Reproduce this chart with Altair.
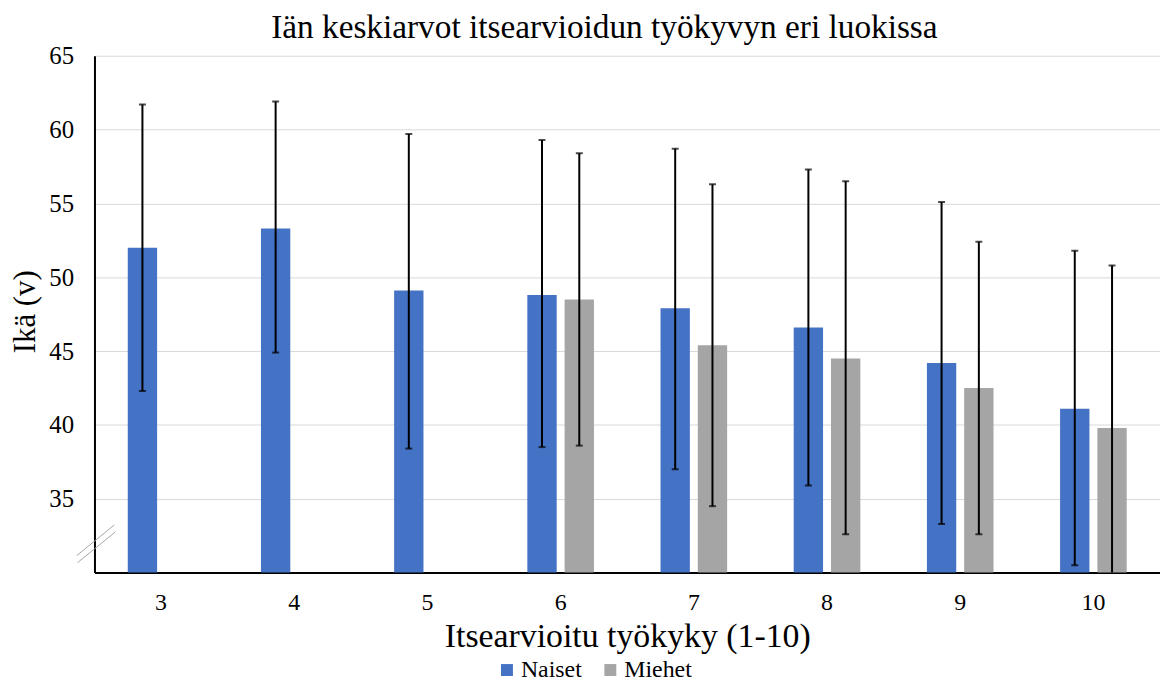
import altair as alt
import pandas as pd

categories = ["3", "4", "5", "6", "7", "8", "9", "10"]
series = ["Naiset", "Miehet"]

naiset_mean = [52.0, 53.3, 49.1, 48.8, 47.9, 46.6, 44.2, 41.1]
naiset_low = [42.3, 44.9, 38.4, 38.5, 37.0, 35.9, 33.3, 30.5]
naiset_high = [61.7, 61.9, 59.7, 59.3, 58.7, 57.3, 55.1, 51.8]

miehet_cats = ["6", "7", "8", "9", "10"]
miehet_mean = [48.5, 45.4, 44.5, 42.5, 39.8]
miehet_low = [38.6, 34.5, 32.6, 32.6, 28.9]
miehet_high = [58.4, 56.3, 56.5, 52.4, 50.8]

y_ticks = [35, 40, 45, 50, 55, 60, 65]

rows = []
for c, m, lo, hi in zip(categories, naiset_mean, naiset_low, naiset_high):
    rows.append({"luokka": c, "sukupuoli": "Naiset", "ika": m, "ala": lo, "yla": hi})
for c, m, lo, hi in zip(miehet_cats, miehet_mean, miehet_low, miehet_high):
    rows.append({"luokka": c, "sukupuoli": "Miehet", "ika": m, "ala": lo, "yla": hi})
df = pd.DataFrame(rows)

FONT = "Liberation Serif"

x_enc = alt.X(
    "luokka:N",
    sort=categories,
    scale=alt.Scale(domain=categories, paddingInner=0, paddingOuter=0),
    axis=alt.Axis(
        title="Itsearvioitu työkyky (1-10)",
        labelAngle=0,
        labelFont=FONT,
        labelFontSize=24,
        labelColor="black",
        titleFont=FONT,
        titleFontSize=34,
        titleFontWeight="normal",
        titleColor="black",
        ticks=False,
        tickSize=0,
        labelPadding=18,
        titlePadding=5,
        domainColor="black",
        domainWidth=2,
        grid=False,
    ),
)
xoff = alt.XOffset(
    "sukupuoli:N",
    sort=series,
    scale=alt.Scale(domain=series, paddingInner=0.213, paddingOuter=0.893),
)
y_scale = alt.Scale(domain=[30, 65], zero=False, nice=False)
y_axis = alt.Axis(
    title="Ikä (v)",
    values=y_ticks,
    labelFont=FONT,
    labelFontSize=25,
    labelColor="black",
    titleFont=FONT,
    titleFontSize=31,
    titleFontWeight="normal",
    titleColor="black",
    titleX=-69,
    titleY=257,
    titleAngle=270,
    titleAlign="center",
    titleBaseline="middle",
    grid=True,
    gridColor="#D9D9D9",
    gridWidth=1,
    ticks=False,
    tickSize=0,
    domainColor="black",
    domainWidth=2,
    labelPadding=21,
)

base = alt.Chart(df)

bars = base.mark_bar(clip=True).encode(
    x=x_enc,
    xOffset=xoff,
    y=alt.Y("ika:Q", scale=y_scale, axis=y_axis),
    color=alt.Color(
        "sukupuoli:N",
        sort=series,
        scale=alt.Scale(domain=series, range=["#4472C4", "#A5A5A5"]),
        legend=alt.Legend(
            title=None,
            orient="none",
            legendX=403,
            legendY=606,
            direction="horizontal",
            symbolType="square",
            symbolSize=144,
            symbolStrokeWidth=0,
            labelFont=FONT,
            labelFontSize=24,
            labelColor="black",
            labelOffset=2,
            columnPadding=16,
        ),
    ),
)

rules = base.mark_rule(color="black", strokeWidth=2, clip=True).encode(
    x=alt.X("luokka:N", sort=categories),
    xOffset=xoff,
    y=alt.Y("ala:Q", scale=y_scale),
    y2="yla:Q",
)

caps_low = base.mark_tick(color="black", thickness=2, size=7, orient="horizontal", clip=True).encode(
    x=alt.X("luokka:N", sort=categories),
    xOffset=xoff,
    y=alt.Y("ala:Q", scale=y_scale),
)
caps_high = base.mark_tick(color="black", thickness=2, size=7, orient="horizontal", clip=True).encode(
    x=alt.X("luokka:N", sort=categories),
    xOffset=xoff,
    y=alt.Y("yla:Q", scale=y_scale),
)

one = pd.DataFrame({"k": [0]})
break1 = alt.Chart(one).mark_rule(color="#A6A6A6", strokeWidth=1).encode(
    x=alt.value(-18), x2=alt.value(20), y=alt.value(503), y2=alt.value(472)
)
break2 = alt.Chart(one).mark_rule(color="#A6A6A6", strokeWidth=1).encode(
    x=alt.value(-17), x2=alt.value(21), y=alt.value(510), y2=alt.value(479)
)

chart = (
    alt.layer(bars, rules, caps_low, caps_high, break1, break2)
    .properties(
        width=1072,
        height=520,
        title=alt.TitleParams(
            "Iän keskiarvot itsearvioidun työkyvyn eri luokissa",
            anchor="middle",
            frame="group",
            offset=-2,
            dx=-23,
            font=FONT,
            fontSize=33.5,
            fontWeight="normal",
            color="black",
        ),
        autosize=alt.AutoSizeParams(type="none"),
        padding={"left": 87, "top": 46, "right": 0, "bottom": 108},
    )
    .configure_view(stroke=None)
)

chart.save("out.html", embed_options={"renderer": "svg", "actions": False})
